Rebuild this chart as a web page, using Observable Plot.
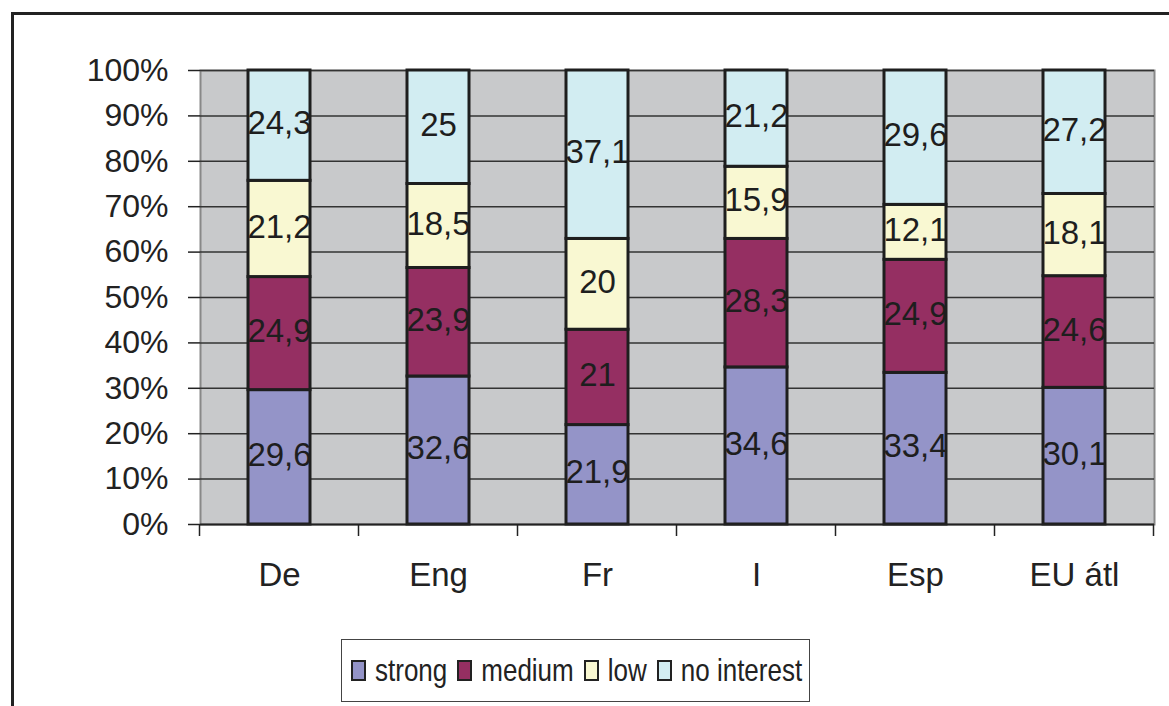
<!DOCTYPE html>
<html><head><meta charset="utf-8">
<script src="https://cdn.jsdelivr.net/npm/d3@7"></script>
<script src="https://cdn.jsdelivr.net/npm/@observablehq/plot@0.6"></script>
<style>
html,body{margin:0;padding:0;background:#fff;width:1169px;height:706px;overflow:hidden;position:relative;font-family:"Liberation Sans",Arial,sans-serif;}
#frame{position:absolute;left:11px;top:12px;width:1300px;height:900px;border:3px solid #222;box-sizing:border-box;}
#chart{position:absolute;left:0;top:0;}
#legend{position:absolute;left:341px;top:639px;width:469px;height:63px;border:1.5px solid #444;box-sizing:border-box;display:flex;align-items:center;padding-left:9px;gap:10px;font-size:26px;color:#222;background:#fff;white-space:nowrap;}
.item{display:flex;align-items:center;gap:9px;}
.item span{display:inline-block;transform:scaleY(1.18);}
.sw{width:15px;height:21px;border:2px solid #222;box-sizing:border-box;flex:none;}
</style></head>
<body>
<div id="frame"></div>
<div id="chart"></div>
<div id="legend"></div>
<script>
const categories = ["De","Eng","Fr","I","Esp","EU átl"];
const series = ["strong","medium","low","no interest"];
const strong = [29.6,32.6,21.9,34.6,33.4,30.1];
const medium = [24.9,23.9,21,28.3,24.9,24.6];
const low = [21.2,18.5,20,15.9,12.1,18.1];
const noInterest = [24.3,25,37.1,21.2,29.6,27.2];
const colors = ["#9494c8","#952f62","#f9f8d2","#d2edf2"];
const yTicks = [0,10,20,30,40,50,60,70,80,90,100];

const data = [];
[strong,medium,low,noInterest].forEach((arr,si)=>arr.forEach((v,ci)=>data.push({cat:categories[ci],series:series[si],value:v})));
const fmt = v => String(v).replace(".", ",");

const plot = Plot.plot({
  width:1169, height:630,
  marginLeft:200, marginRight:15, marginTop:70, marginBottom:106,
  style:{fontFamily:'"Liberation Sans", Arial, sans-serif', fontSize:"32px", color:"#222", background:"transparent", overflow:"visible"},
  x:{domain:categories, paddingInner:0.61, paddingOuter:0.305, label:null},
  y:{domain:[0,100], label:null},
  color:{domain:series, range:colors},
  marks:[
    Plot.frame({fill:"#c8c9cb", stroke:"#888", strokeWidth:2}),
    Plot.ruleY(yTicks.slice(1), {stroke:"#333", strokeWidth:1.5}),
    Plot.barY(data, {x:"cat", y:"value", fill:"series", stroke:"#1e1e1e", strokeWidth:3}),
    Plot.text(data, Plot.stackY({x:"cat", y:"value", z:"series", text:d=>fmt(d.value), fill:"#1e1e1e", fontSize:33, dy:-2})),
    Plot.axisY({ticks:yTicks, tickFormat:d=>d+"%", tickSize:12, tickPadding:20, fontSize:32, stroke:"#222", strokeWidth:1.5}),
    Plot.axisX({tickSize:0, tickPadding:38, fontSize:33}),
    Plot.ruleY([0], {stroke:"#222", strokeWidth:2})
  ]
});
document.getElementById("chart").appendChild(plot);

// category boundary ticks from the band scale
const sx = plot.scale("x");
const step = sx.step, bw = sx.bandwidth;
const off = (step - bw) / 2;
const bounds = categories.map(c => sx.apply(c) - off).concat([sx.apply(categories[categories.length-1]) + bw + off]);
const sy = plot.scale("y");
const y0 = sy.apply(0);
const g = d3.select(plot).append("g").attr("stroke","#222").attr("stroke-width",1.5);
bounds.forEach(b => g.append("line").attr("x1",b).attr("x2",b).attr("y1",y0).attr("y2",y0+12));

// legend
const lg = document.getElementById("legend");
series.forEach((s,i)=>{
  const it = document.createElement("div"); it.className="item";
  const sw = document.createElement("div"); sw.className="sw"; sw.style.background=colors[i];
  const t = document.createElement("span"); t.textContent=s;
  it.appendChild(sw); it.appendChild(t); lg.appendChild(it);
});
</script>
</body></html>
